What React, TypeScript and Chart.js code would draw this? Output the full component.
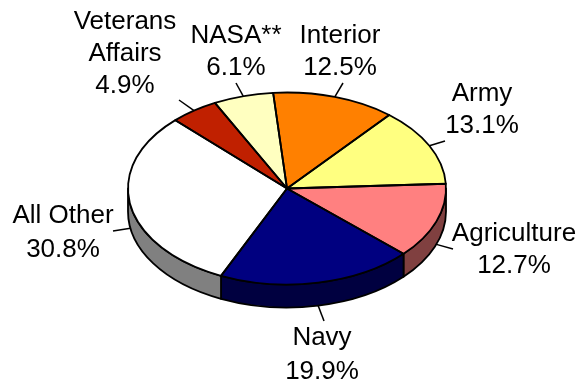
import React, { useEffect, useRef } from "react";
import { Chart, registerables } from "chart.js";

Chart.register(...registerables);

const categories = ["Interior", "Army", "Agriculture", "Navy", "All Other", "Veterans\nAffairs", "NASA**"];
const shares = [12.5, 13.1, 12.7, 19.9, 30.8, 4.9, 6.1];
const topColors = ["#FF8000", "#FFFF80", "#FF8080", "#000080", "#FFFFFF", "#C02000", "#FFFFC0"];
const wallColors = ["#804000", "#808040", "#804040", "#000040", "#808080", "#601000", "#808060"];

// label layout: [centre x, first baseline y, line height, leader outer x, leader outer y]
const labelLayout: number[][] = [
  [340, 43, 32, 343, 83],
  [482, 101, 32, 445, 141],
  [514, 241, 32, 453, 249],
  [322, 345, 34, 324, 321],
  [63, 223, 34, 113, 231],
  [125, 29, 32, 179, 100],
  [236, 43, 32, 236, 83],
];

const SQUASH = 96 / 159;
const DEPTH = 23;
const STROKE = 1.8;
const FONT = '26px "Liberation Sans", Arial, sans-serif';

const pie3d = {
  id: "pie3d",
  beforeDatasetsDraw(chart: any) {
    const ctx = chart.ctx;
    const arcs = chart.getDatasetMeta(0).data;
    ctx.save();
    ctx.lineWidth = STROKE;
    ctx.strokeStyle = "#000";
    ctx.lineJoin = "round";
    arcs.forEach((a: any, i: number) => {
      const s = Math.max(a.startAngle, 0);
      const e = Math.min(a.endAngle, Math.PI);
      if (e <= s) return;
      const rx = a.outerRadius;
      const ry = rx * SQUASH;
      ctx.beginPath();
      ctx.ellipse(a.x, a.y, rx, ry, 0, s, e);
      ctx.ellipse(a.x, a.y + DEPTH, rx, ry, 0, e, s, true);
      ctx.closePath();
      ctx.fillStyle = wallColors[i];
      ctx.fill();
      ctx.stroke();
    });
    const cy = arcs[0].y;
    ctx.translate(0, cy);
    ctx.scale(1, SQUASH);
    ctx.translate(0, -cy);
  },
  afterDatasetsDraw(chart: any) {
    const ctx = chart.ctx;
    ctx.restore();
    const arcs = chart.getDatasetMeta(0).data;
    ctx.save();
    ctx.lineWidth = STROKE;
    ctx.strokeStyle = "#000";
    ctx.lineJoin = "round";
    arcs.forEach((a: any) => {
      const rx = a.outerRadius;
      const ry = rx * SQUASH;
      ctx.beginPath();
      ctx.moveTo(a.x, a.y);
      ctx.ellipse(a.x, a.y, rx, ry, 0, a.startAngle, a.endAngle);
      ctx.closePath();
      ctx.stroke();
    });
    ctx.font = FONT;
    ctx.fillStyle = "#000";
    ctx.textAlign = "center";
    ctx.textBaseline = "alphabetic";
    arcs.forEach((a: any, i: number) => {
      const [tx, ty, lh, ox, oy] = labelLayout[i];
      const mid = (a.startAngle + a.endAngle) / 2;
      const rx = a.outerRadius;
      const ry = rx * SQUASH;
      const ix = a.x + rx * Math.cos(mid);
      const iy = a.y + ry * Math.sin(mid) + (Math.sin(mid) > 0 ? DEPTH : 0);
      ctx.beginPath();
      ctx.lineWidth = 1.5;
      ctx.moveTo(ox, oy);
      ctx.lineTo(ix, iy);
      ctx.stroke();
      const lines = [...categories[i].split("\n"), shares[i].toFixed(1) + "%"];
      lines.forEach((t, k) => ctx.fillText(t, tx, ty + k * lh));
    });
    ctx.restore();
  },
};

export default function App() {
  const ref = useRef<HTMLCanvasElement>(null);
  useEffect(() => {
    const chart = new Chart(ref.current!, {
      type: "pie",
      data: {
        labels: categories,
        datasets: [{ data: shares, backgroundColor: topColors, borderWidth: 0 }],
      },
      options: {
        responsive: false,
        animation: false,
        rotation: -5,
        events: [],
        layout: { padding: { left: 128, right: 133, top: 29.5, bottom: 35.5 } },
        plugins: { legend: { display: false }, tooltip: { enabled: false } },
      },
      plugins: [pie3d],
    } as any);
    return () => chart.destroy();
  }, []);
  return (
    <div style={{ position: "fixed", left: 0, top: 0, width: 579, height: 383, background: "#fff" }}>
      <canvas ref={ref} width={579} height={383} style={{ display: "block" }} />
    </div>
  );
}
